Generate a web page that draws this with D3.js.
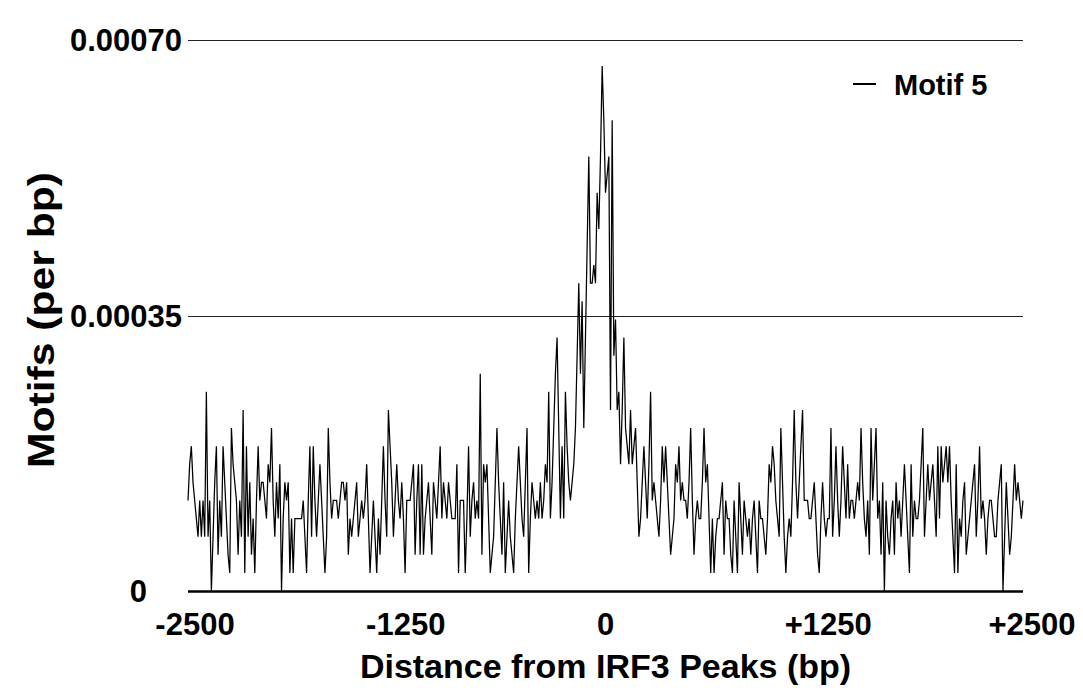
<!DOCTYPE html>
<html>
<head>
<meta charset="utf-8">
<script src="https://cdn.jsdelivr.net/npm/d3@7"></script>
<style>
  body { margin: 0; background: #fff; }
  svg { display: block; }
  text { font-family: "Liberation Sans", Arial, Helvetica, sans-serif; font-weight: bold; fill: #000; }
</style>
</head>
<body>
<svg id="chart" width="1083" height="692"></svg>
<script>
// motif hits per 10 bp bin (-2500 .. +2500)
const binStart = -2500;
const binStep = 10;
const motif5Counts = [
  5,7,8,6,5,4,3,5,3,5,  3,11,3,5,0,3,6,8,2,5,  3,8,6,4,2,1,9,7,6,5,  2,5,3,10,1,8,3,6,2,4,
  1,5,8,5,6,6,5,4,7,6,  9,5,3,6,4,7,0,4,6,5,  6,1,4,1,4,4,4,4,4,5,  3,1,5,8,3,8,5,3,5,7,
  5,3,1,3,9,6,4,5,5,5,  4,5,6,6,5,6,2,4,3,4,  5,6,3,4,5,4,5,7,4,1,  3,5,3,1,4,2,5,8,5,3,
  10,8,6,3,5,7,5,4,6,4, 1,5,5,5,6,7,2,5,7,2,  7,2,4,5,6,4,2,6,5,4,  6,8,4,6,5,4,6,5,4,4,
  4,7,1,5,5,5,1,4,8,3,  5,6,4,5,4,12,2,7,6,7, 4,1,2,3,6,9,6,4,2,6,  1,3,5,3,2,1,4,6,8,6,
  4,3,6,9,1,4,6,5,4,5,  4,6,4,5,7,6,11,4,6,9, 12,14,9,4,8,4,11,8,6,5, 6,7,9,13,17,12,16,9,14,19,
  24,17,17,18,17,22,20,24,29,26, 22,23,24,10,26,13,15,10,11,7, 10,14,9,8,7,10,7,8,9,6, 3,4,6,8,6,4,7,11,5,6,
  5,4,3,5,8,6,8,6,4,2,  3,4,7,6,8,5,6,5,5,4,  6,9,5,2,4,5,4,4,6,9,  6,7,4,1,4,1,3,4,4,5,
  6,2,5,4,4,2,1,5,3,1,  6,4,2,5,4,3,4,2,4,5,  3,1,5,4,4,3,2,4,7,6,  8,7,5,4,3,9,6,3,1,3,
  4,3,6,10,6,4,6,8,10,5, 5,5,4,4,5,6,4,2,1,4, 6,4,3,4,4,9,3,5,8,5,  3,5,8,6,4,7,4,5,5,4,
  5,6,5,9,6,4,3,5,2,9,  5,7,9,4,5,2,6,0,5,3,  2,4,5,2,6,4,5,3,5,7,  5,3,1,7,3,5,4,4,5,7,
  9,3,5,7,5,6,7,5,3,8,  4,8,6,7,8,6,8,5,3,1,  7,1,4,3,5,6,2,3,4,5,  6,7,3,5,8,4,5,4,2,4,
  5,5,4,3,3,5,6,7,0,3,  6,4,2,3,5,7,5,6,5,4,  5
];
const perBpPerCount = 0.000023;

const xTicks = [-2500, -1250, 0, 1250, 2500];
const xTickLabels = ["-2500", "-1250", "0", "+1250", "+2500"];
const yTicks = [0, 0.00035, 0.0007];
const yTickLabels = ["0", "0.00035", "0.00070"];
const seriesName = "Motif 5";
const xTitle = "Distance from IRF3 Peaks (bp)";
const yTitle = "Motifs (per bp)";

// layout
const plotLeft = 188, plotRight = 1023, plotTop = 40, plotBottom = 591;
const xLabelNudge = [7, 9, 0, 14, 9];
const yLabelNudge = [-35, 0, 0];

const points = motif5Counts.map((c, i) => ({ bp: binStart + i * binStep, v: c * perBpPerCount }));

const svg = d3.select("#chart");

const x = d3.scaleLinear().domain([-2500, 2500]).range([plotLeft, plotRight]);
const y = d3.scaleLinear().domain([0, 0.0007]).range([plotBottom, plotTop]);

// horizontal rules
svg.append("g").selectAll("line")
  .data(yTicks)
  .join("line")
    .attr("x1", plotLeft)
    .attr("x2", plotRight)
    .attr("y1", d => Math.round(y(d)) + 0.5)
    .attr("y2", d => Math.round(y(d)) + 0.5)
    .attr("stroke", d => d === 0 ? "#000" : "#222")
    .attr("stroke-width", d => d === 0 ? 2.5 : 1);

// y labels
svg.append("g").selectAll("text")
  .data(yTicks)
  .join("text")
    .attr("x", (d, i) => plotLeft - 6 + yLabelNudge[i])
    .attr("y", d => y(d) + 11)
    .attr("text-anchor", "end")
    .style("font-size", "31px")
    .text((d, i) => yTickLabels[i]);

// x labels
svg.append("g").selectAll("text")
  .data(xTicks)
  .join("text")
    .attr("x", (d, i) => x(d) + xLabelNudge[i])
    .attr("y", 635)
    .attr("text-anchor", "middle")
    .style("font-size", "31px")
    .text((d, i) => xTickLabels[i]);

// series
const line = d3.line()
  .x(d => x(d.bp))
  .y(d => y(d.v));

svg.append("path")
  .datum(points)
  .attr("d", line)
  .attr("fill", "none")
  .attr("stroke", "#000")
  .attr("stroke-width", 1.25)
  .attr("stroke-linejoin", "miter");

// legend
const legend = svg.append("g").attr("transform", "translate(853,84)");
legend.append("line")
  .attr("x1", 0).attr("x2", 23)
  .attr("stroke", "#000").attr("stroke-width", 2);
legend.append("text")
  .attr("x", 41)
  .attr("y", 11)
  .style("font-size", "29px")
  .text(seriesName);

// axis titles
svg.append("text")
  .attr("x", (plotLeft + plotRight) / 2)
  .attr("y", 678)
  .attr("text-anchor", "middle")
  .style("font-size", "34px")
  .text(xTitle);

svg.append("text")
  .attr("transform", `translate(54,320) rotate(-90)`)
  .attr("text-anchor", "middle")
  .attr("textLength", 296)
  .attr("lengthAdjust", "spacingAndGlyphs")
  .style("font-size", "37px")
  .text(yTitle);
</script>
</body>
</html>
